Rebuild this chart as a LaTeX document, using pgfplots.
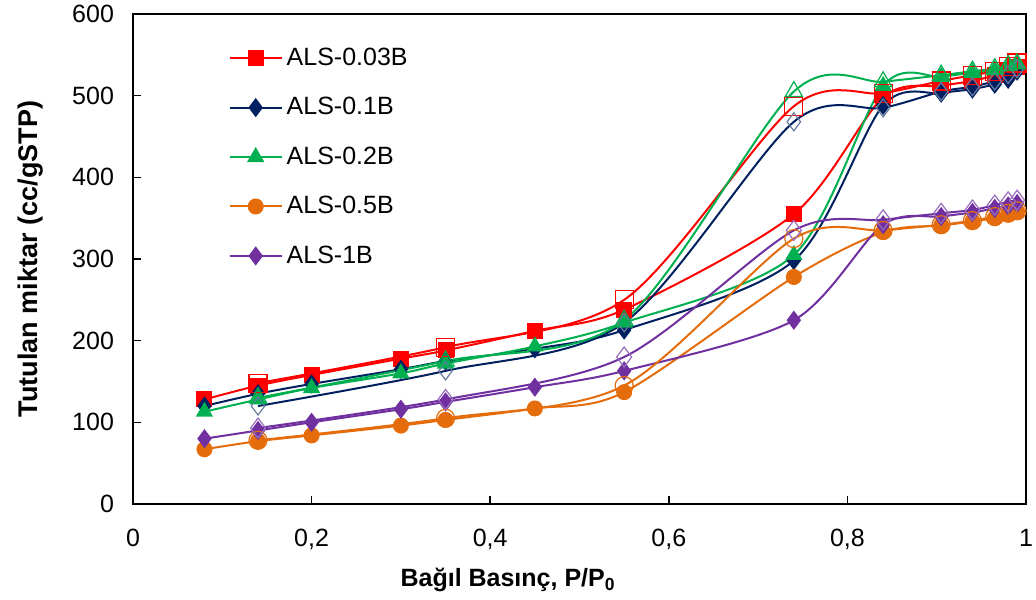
\documentclass[border=0pt]{standalone}
\usepackage{pgfplots}
\pgfplotsset{compat=1.18}
\usepackage{fontspec}
\setmainfont{Liberation Sans}
\definecolor{cred}{RGB}{255,0,0}
\definecolor{cnavy}{RGB}{0,32,96}
\definecolor{cgreen}{RGB}{0,176,80}
\definecolor{corange}{RGB}{228,108,10}
\definecolor{cpurple}{RGB}{112,48,160}
\begin{document}
\begin{tikzpicture}
\useasboundingbox (-66.5pt,-47.5pt) rectangle (451.5pt,252pt);
\begin{axis}[
  scale only axis, width=446.5pt, height=245pt,
  xmin=0, xmax=1, ymin=0, ymax=600,
  xtick={0,0.2,0.4,0.6,0.8,1}, ytick={0,100,200,300,400,500,600},
  xtick pos=bottom, ytick pos=left, tick align=inside,
  major tick length=4pt,
  axis line style={line width=1pt}, every tick/.style={line width=0.8pt, black},
  /pgf/number format/assume math mode=true,
  /pgf/number format/use comma,
  ticklabel style={font=\fontsize{12.5}{14}\selectfont},
  xticklabel style={yshift=-9pt},
  yticklabel style={xshift=-6pt},
  xlabel={\textbf{Bağıl Basınç, P/P\textsubscript{0}}},
  ylabel={\textbf{Tutulan miktar (cc/gSTP)}},
  xlabel style={font=\fontsize{12.5}{14}\selectfont, at={(axis description cs:0.42,-0.155)}, anchor=center},
  ylabel style={font=\fontsize{13.5}{15}\selectfont, at={(axis description cs:-0.115,0.5)}, anchor=center, rotate=0},
  legend style={draw=none, fill=none, at={(axis description cs:0.1,0.948)}, anchor=north west,
    font=\fontsize{12.5}{14}\selectfont, row sep=10.5pt},
  legend cell align=left,
  legend image code/.code={\draw[mark repeat=2,mark phase=2,#1] plot coordinates {(0pt,0pt)(13pt,0pt)(26pt,0pt)};},
  every axis plot/.append style={line width=1pt, smooth},
]
% ---------- ALS-0.03B ----------
\addplot[cred, mark=square*, mark size=3.5pt, mark options={solid}] coordinates {
(0.08,128)(0.14,145)(0.2,158)(0.3,178)(0.35,188)(0.45,212)(0.55,238)(0.74,355)(0.84,498)(0.905,512)(0.94,518)(0.965,525)(0.98,530)(0.99,535)};
\addlegendentry{ALS-0.03B}
% ---------- ALS-0.1B ----------
\addplot[cnavy, mark=diamond*, mark size=4pt, mark options={solid}] coordinates {
(0.08,120)(0.14,135)(0.2,147)(0.3,165)(0.35,175)(0.45,190)(0.55,213)(0.74,298)(0.84,488)(0.905,503)(0.94,508)(0.965,514)(0.98,520)(0.99,530)};
\addlegendentry{ALS-0.1B}
% ---------- ALS-0.2B ----------
\addplot[cgreen, mark=triangle*, mark size=4pt, mark options={solid}] coordinates {
(0.08,113)(0.14,128)(0.2,142)(0.3,160)(0.35,172)(0.45,193)(0.55,222)(0.74,305)(0.84,512)(0.905,523)(0.94,528)(0.965,531)(0.98,536)(0.99,539)};
\addlegendentry{ALS-0.2B}
% ---------- ALS-0.5B ----------
\addplot[corange, mark=*, mark size=3.5pt, mark options={solid}] coordinates {
(0.08,67)(0.14,77)(0.2,84)(0.3,96)(0.35,103)(0.45,117)(0.55,137)(0.74,278)(0.84,333)(0.905,341)(0.94,346)(0.965,350)(0.98,355)(0.99,358)};
\addlegendentry{ALS-0.5B}
% ---------- ALS-1B ----------
\addplot[cpurple, mark=diamond*, mark size=4pt, mark options={solid}] coordinates {
(0.08,80)(0.14,90)(0.2,100)(0.3,116)(0.35,125)(0.45,143)(0.55,163)(0.74,225)(0.84,342)(0.905,352)(0.94,357)(0.965,362)(0.98,365)(0.99,368)};
\addlegendentry{ALS-1B}
% ---------- desorption branches (open markers) ----------
\addplot[cred, forget plot, mark=square, mark size=4.5pt, mark options={solid, line width=0.6pt}] coordinates {
(0.99,540)(0.98,536)(0.965,530)(0.94,525)(0.905,518)(0.84,503)(0.74,487)(0.55,250)(0.35,192)(0.14,148)};
\addplot[cnavy, forget plot, mark=diamond, mark size=4.5pt, mark options={solid, line width=0.6pt, draw=cnavy!60}] coordinates {
(0.99,533)(0.98,526)(0.965,518)(0.94,511)(0.905,505)(0.84,485)(0.74,468)(0.55,222)(0.35,163)(0.14,120)};
\addplot[cgreen, forget plot, mark=triangle, mark size=5pt, mark options={solid, line width=0.6pt}] coordinates {
(0.99,539)(0.98,537)(0.965,533)(0.94,530)(0.905,525)(0.84,517)(0.74,505)(0.55,225)(0.35,175)(0.14,130)};
\addplot[corange, forget plot, mark=o, mark size=4.5pt, mark options={solid, line width=0.6pt}] coordinates {
(0.99,359)(0.98,356)(0.965,352)(0.94,347)(0.905,342)(0.84,335)(0.74,325)(0.55,145)(0.35,105)(0.14,78)};
\addplot[cpurple, forget plot, mark=diamond, mark size=5pt, mark options={solid, line width=0.6pt, draw=cpurple!70}] coordinates {
(0.99,372)(0.98,370)(0.965,366)(0.94,360)(0.905,356)(0.84,348)(0.74,335)(0.55,180)(0.35,128)(0.14,93)};
\end{axis}
\end{tikzpicture}
\end{document}
